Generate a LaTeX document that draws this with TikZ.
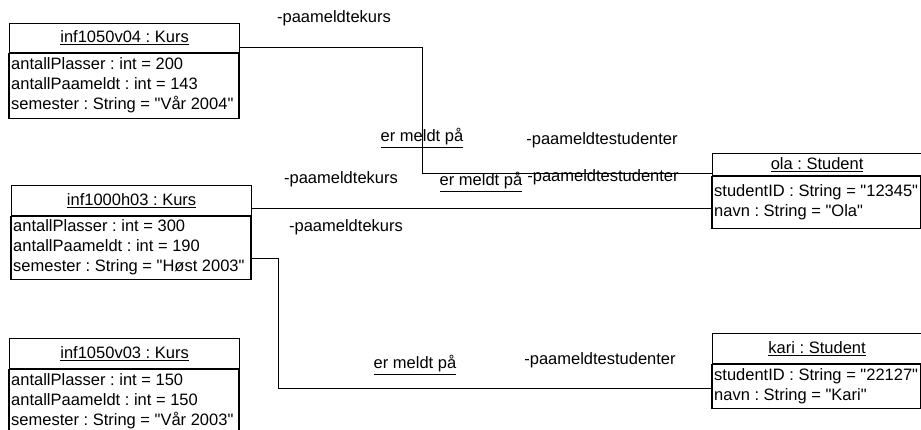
\documentclass[tikz,border=0pt]{standalone}
\usepackage{fontspec}
\setmainfont{Liberation Sans}[Ligatures=TeXOff]
\usetikzlibrary{positioning}
\newcommand{\tekst}{\fontsize{16.5}{20}\selectfont\frenchspacing}
% objekt: navn, hjorne, bredde, hodehoyde, kropphoyde, tittel, attributter
\newcommand{\objekt}[7]{
	\node [hode,minimum width=#3pt,minimum height=#4pt,anchor=north west] (#1h) at #2 {\underline{#6}};
	\draw [ramme] (#1h.south west) rectangle ++(#3,#5);
	\node [kropp,anchor=west] (#1b) at ([yshift=-#5/2]#1h.south west) {#7};}
\begin{document}
\begin{tikzpicture}[x=1pt,y=-1pt,
	hode/.style={draw,line width=1.2pt,inner sep=0pt,font=\tekst},
	ramme/.style={line width=1.2pt},
	kropp/.style={inner xsep=2pt,inner ysep=0pt,align=left,font=\tekst},
	rolle/.style={inner sep=0pt,font=\tekst},
	lenke/.style={draw,line width=0.9pt}]
\useasboundingbox (0,0) rectangle (921,430);
% kurs
\objekt {k04} {(9,23)} {230} {29} {65} {inf1050v04 : Kurs}
	{antallPlasser : int = 200\\antallPaameldt : int = 143\\semester : String = "Vår 2004"}
\objekt {k03} {(11,185)} {240} {30} {63} {inf1000h03 : Kurs}
	{antallPlasser : int = 300\\antallPaameldt : int = 190\\semester : String = "Høst 2003"}
\objekt {v03} {(9,338)} {230} {30} {64} {inf1050v03 : Kurs}
	{antallPlasser : int = 150\\antallPaameldt : int = 150\\semester : String = "Vår 2003"}
% studenter
\objekt {ola} {(712,153)} {209} {22} {52} {ola : Student}
	{studentID : String = "12345"\\navn : String = "Ola"}
\objekt {kari} {(712,333)} {209} {30} {44} {kari : Student}
	{studentID : String = "22127"\\navn : String = "Kari"}
% lenker
\coordinate (b1) at (422,173);
\coordinate (c2) at ([yshift=-8pt]k03h.east);
\coordinate (c3) at ([yshift=-42pt]k03h.south east);
\coordinate (b3) at (278,388);
\draw [lenke] ([yshift=-9.5pt]k04h.east) -| (b1) -- (b1 -| olah.west);
\draw [lenke] (c2) -- (c2 -| olab.west);
\draw [lenke] (c3) -| (b3) -- (b3 -| karib.west);
% roller
\node [rolle] (r1k) at (334,18) {-paameldtekurs};
\node [rolle] (r1m) at (422,138) {\underline{er meldt på}};
\node [rolle] (r1s) at (602,140) {-paameldtestudenter};
\node [rolle] (r2k) at (341,179) {-paameldtekurs};
\node [rolle] (r2m) at (481,182) {\underline{er meldt på}};
\node [rolle] (r2s) at (603,177) {-paameldtestudenter};
\node [rolle] (r3k) at (346,227) {-paameldtekurs};
\node [rolle] (r3m) at (415,365) {\underline{er meldt på}};
\node [rolle] (r3s) at (600,360) {-paameldtestudenter};
\end{tikzpicture}
\end{document}
